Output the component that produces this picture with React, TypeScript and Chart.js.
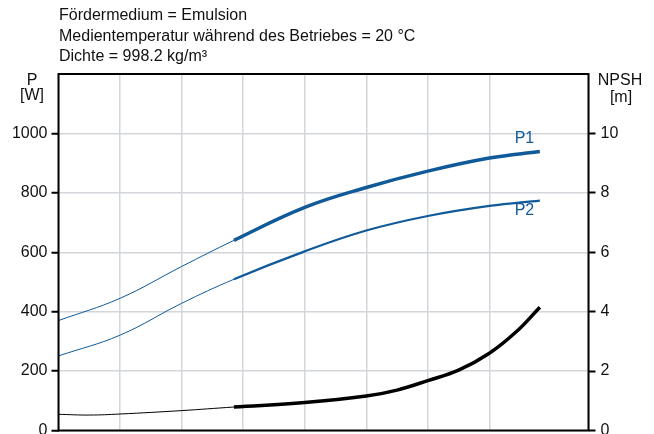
import { useEffect, useRef } from 'react'
import { Chart, registerables, type Plugin } from 'chart.js'

Chart.register(...registerables)

// curve data; x in grid units (0..8.6)
// the line is drawn thin left of OP_START and thick in the operating range
const OP_START = 2.85

const p1 = [
  { x: 0, y: 370 }, { x: 1, y: 445 }, { x: 2, y: 552 }, { x: 2.85, y: 640 },
  { x: 4, y: 751 }, { x: 5, y: 818 }, { x: 6, y: 873 }, { x: 7, y: 917 }, { x: 7.82, y: 939 },
]
const p2 = [
  { x: 0, y: 251 }, { x: 1, y: 321 }, { x: 2, y: 428 }, { x: 2.85, y: 509 },
  { x: 4, y: 603 }, { x: 5, y: 673 }, { x: 6, y: 722 }, { x: 7, y: 756 }, { x: 7.82, y: 774 },
]
const npsh = [
  { x: 0, y: 0.545 }, { x: 0.5, y: 0.52 }, { x: 1, y: 0.555 }, { x: 2, y: 0.67 }, { x: 2.85, y: 0.79 },
  { x: 4, y: 0.94 }, { x: 5, y: 1.16 }, { x: 5.5, y: 1.36 }, { x: 6, y: 1.68 },
  { x: 6.5, y: 2.03 }, { x: 7, y: 2.6 }, { x: 7.44, y: 3.33 }, { x: 7.82, y: 4.15 },
]

const headerLines = [
  'Fördermedium = Emulsion',
  'Medientemperatur während des Betriebes = 20 °C',
  'Dichte = 998.2 kg/m³',
]
const curveLabels = [
  { text: 'P1', x: 7.57, y: 981 },
  { text: 'P2', x: 7.57, y: 740 },
]

const BLUE = '#105a9a'
const FONT = '"Liberation Sans", Arial, sans-serif'
const FS = 16

const decor: Plugin<'line'> = {
  id: 'decor',
  afterDatasetsDraw(chart) {
    const { ctx, chartArea: a, scales } = chart
    ctx.save()
    // frame
    ctx.strokeStyle = '#000'
    ctx.lineWidth = 2
    ctx.strokeRect(a.left, a.top, a.right - a.left, a.bottom - a.top)

    ctx.font = `${FS}px ${FONT}`
    ctx.fillStyle = '#111'
    ctx.textBaseline = 'middle'
    ctx.textAlign = 'left'
    headerLines.forEach((t, i) => ctx.fillText(t, 59, 16 + i * 20.5))

    ctx.textAlign = 'center'
    ctx.fillText('P', 32, 81)
    ctx.fillText('[W]', 32, 96)
    ctx.fillText('NPSH', 620, 81)
    ctx.fillText('[m]', 621, 98)

    ctx.fillStyle = BLUE
    curveLabels.forEach((l) => {
      ctx.fillText(l.text, scales.x.getPixelForValue(l.x), scales.y.getPixelForValue(l.y))
    })
    ctx.restore()
  },
}

export default function App() {
  const ref = useRef<HTMLCanvasElement>(null)

  useEffect(() => {
    if (!ref.current) return
    const line = (data: { x: number; y: number }[], color: string, thick: number, axis = 'y') => ({
      data,
      borderColor: color,
      borderWidth: 1,
      pointRadius: 0,
      tension: 0.4,
      fill: false,
      yAxisID: axis,
      segment: {
        borderWidth: (c: any) => (c.p0.parsed.x >= OP_START - 1e-6 ? thick : 1),
      },
    })
    const tickFont = { family: FONT, size: FS }
    const chart = new Chart(ref.current, {
      type: 'line',
      data: {
        datasets: [
          line(p1, BLUE, 3.5),
          line(p2, BLUE, 2.2),
          line(npsh, '#000', 3.5, 'y2'),
        ],
      },
      options: {
        responsive: false,
        animation: false,
        layout: { padding: { top: 74, left: 0, right: 0, bottom: 3.5 } },
        plugins: { legend: { display: false }, tooltip: { enabled: false }, title: { display: false } },
        scales: {
          x: {
            type: 'linear',
            min: 0,
            max: 8.61,
            ticks: { display: false, stepSize: 1 },
            grid: { color: '#d3d6da', lineWidth: 1.5, drawTicks: false },
            border: { display: false },
            afterFit: (s) => { s.height = 0; s.paddingLeft = 0; s.paddingRight = 0 },
          },
          y: {
            position: 'left',
            min: 0,
            max: 1200,
            ticks: {
              stepSize: 200,
              padding: 4,
              color: '#111',
              font: tickFont,
              callback: (v) => (Number(v) === 1200 ? '' : String(v)),
            },
            grid: {
              color: '#d3d6da',
              lineWidth: 1.5,
              tickLength: 7,
              tickColor: (c) => (c.tick && c.tick.value === 1200 ? 'rgba(0,0,0,0)' : '#000'),
              tickWidth: 2,
            },
            border: { display: false },
            afterFit: (s) => { s.width = 58.5; s.paddingTop = 0; s.paddingBottom = 0 },
          },
          y2: {
            position: 'right',
            min: 0,
            max: 12,
            ticks: {
              stepSize: 2,
              padding: 5,
              color: '#111',
              font: tickFont,
              callback: (v) => (Number(v) === 12 ? '' : String(v)),
            },
            grid: {
              drawOnChartArea: false,
              tickLength: 7,
              tickColor: (c) => (c.tick && c.tick.value === 12 ? 'rgba(0,0,0,0)' : '#000'),
              tickWidth: 2,
            },
            border: { display: false },
            afterFit: (s) => { s.width = 65.5; s.paddingTop = 0; s.paddingBottom = 0 },
          },
        },
      },
      plugins: [decor],
    })
    return () => chart.destroy()
  }, [])

  return (
    <div style={{ position: 'absolute', left: 0, top: 0, width: 654, height: 434, background: '#fff' }}>
      <canvas ref={ref} width={654} height={434} />
    </div>
  )
}
